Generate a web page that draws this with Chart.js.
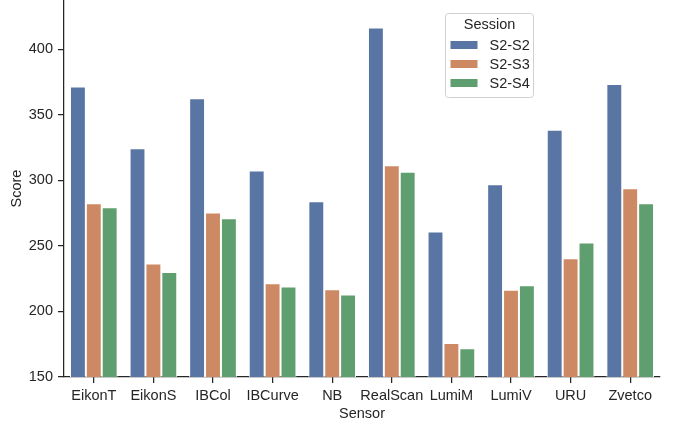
<!DOCTYPE html>
<html>
<head>
<meta charset="utf-8">
<script src="https://cdn.jsdelivr.net/npm/chart.js@4.4.1/dist/chart.umd.min.js"></script>
<style>
  html, body { margin: 0; padding: 0; background: #fff; }
  #wrap { width: 675px; height: 423px; }
</style>
</head>
<body>
<div id="wrap"><canvas id="chart" width="675" height="423"></canvas></div>
<script>
// Data
const sensors = ['EikonT', 'EikonS', 'IBCol', 'IBCurve', 'NB', 'RealScan', 'LumiM', 'LumiV', 'URU', 'Zvetco'];
const sessions = ['S2-S2', 'S2-S3', 'S2-S4'];
const scoreS2S2 = [371.5, 324.5, 362.5, 307.5, 284, 416.5, 261, 297, 338.5, 373.5];
const scoreS2S3 = [282.5, 236.5, 275.5, 221.5, 217, 311.5, 176, 216.5, 240.5, 294];
const scoreS2S4 = [279.5, 230, 271, 219, 213, 306.5, 172, 220, 252.5, 282.5];
const yTicks = [150, 200, 250, 300, 350, 400];

const sessionColors = ['#5975a4', '#cc8963', '#5f9e6e'];
const textColor = '#262626';
const fontFamily = '"Liberation Sans", Arial, sans-serif';
const fontSize = 14.5;

// Legend drawn inside the plot, like seaborn's
const sessionLegend = {
    id: 'sessionLegend',
    afterDraw(chart) {
        const ctx = chart.ctx;
        const x = 445.5, y = 13.5, w = 88, h = 84;
        ctx.save();
        ctx.beginPath();
        ctx.roundRect(x, y, w, h, 3);
        ctx.fillStyle = 'rgba(255,255,255,0.8)';
        ctx.fill();
        ctx.strokeStyle = '#d0d0d0';
        ctx.lineWidth = 1;
        ctx.stroke();

        ctx.font = fontSize + 'px ' + fontFamily;
        ctx.fillStyle = textColor;
        ctx.textAlign = 'center';
        ctx.textBaseline = 'middle';
        ctx.fillText('Session', x + w / 2, y + 11.5);

        chart.data.datasets.forEach((ds, i) => {
            const rowY = y + 31.5 + i * 19;
            ctx.fillStyle = ds.backgroundColor;
            ctx.fillRect(x + 5, rowY - 4, 27, 8);
            ctx.fillStyle = textColor;
            ctx.textAlign = 'left';
            ctx.fillText(ds.label, x + 44, rowY + 0.5);
        });
        ctx.restore();
    }
};

const ctx = document.getElementById('chart').getContext('2d');
new Chart(ctx, {
    type: 'bar',
    data: {
        labels: sensors,
        datasets: [scoreS2S2, scoreS2S3, scoreS2S4].map((values, i) => ({
            label: sessions[i],
            data: values,
            backgroundColor: sessionColors[i],
            borderColor: '#ffffff',
            borderWidth: 1,
            categoryPercentage: 0.8,
            barPercentage: 1.0
        }))
    },
    options: {
        responsive: false,
        animation: false,
        layout: { padding: { top: 0, right: 15, bottom: 0, left: 0 } },
        plugins: {
            legend: { display: false },
            tooltip: { enabled: false }
        },
        scales: {
            x: {
                grid: { drawOnChartArea: false, drawTicks: true, tickLength: 6, tickColor: textColor, offset: false, lineWidth: 1.25 },
                border: { color: textColor, width: 1.25 },
                ticks: { color: textColor, font: { family: fontFamily, size: fontSize }, padding: 4, maxRotation: 0, autoSkip: false },
                title: { display: true, text: 'Sensor', color: textColor, font: { family: fontFamily, size: fontSize }, padding: { top: 0, bottom: 0 } },
                afterFit(scale) {
                    scale.height = 46;
                    scale.paddingLeft = 0;
                    scale.paddingRight = 0;
                }
            },
            y: {
                min: 150,
                max: 437.5,
                grid: { drawOnChartArea: false, drawTicks: true, tickLength: 6, tickColor: textColor, lineWidth: 1.25 },
                border: { color: textColor, width: 1.25 },
                afterBuildTicks(scale) {
                    scale.ticks = yTicks.map(v => ({ value: v }));
                },
                ticks: { color: textColor, font: { family: fontFamily, size: fontSize }, padding: 5 },
                title: { display: true, text: 'Score', color: textColor, font: { family: fontFamily, size: fontSize }, padding: { top: 8, bottom: 0 } },
                afterFit(scale) {
                    scale.width = 64;
                    scale.paddingTop = 0;
                    scale.paddingBottom = 0;
                }
            }
        }
    },
    plugins: [sessionLegend]
});
</script>
</body>
</html>
